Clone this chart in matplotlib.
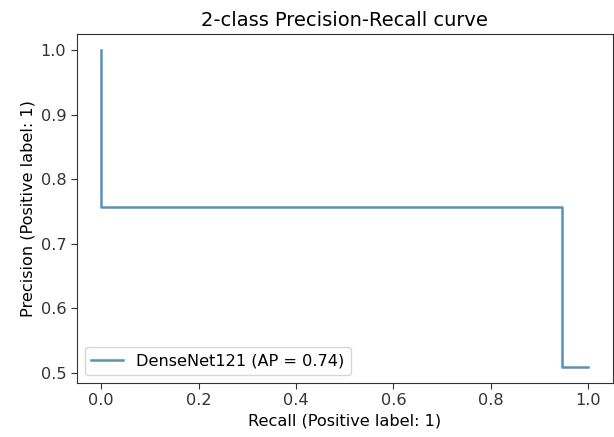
import matplotlib
matplotlib.use('Agg')
import matplotlib.pyplot as plt

# PR curve points (recall decreasing, as sklearn returns them)
recall = [1.0, 0.945, 0.0]
precision = [0.509, 0.757, 1.0]
label = 'DenseNet121 (AP = 0.74)'

plt.rcParams['font.size'] = 11.6
plt.rcParams['xtick.major.size'] = 4
plt.rcParams['ytick.major.size'] = 4
plt.rcParams['axes.edgecolor'] = '#333333'

fig = plt.figure(figsize=(6.14, 4.37), dpi=100)
ax = fig.add_axes([0.125, 0.124, 0.873, 0.798])

ax.plot(recall, precision, drawstyle='steps-post', color='#5a93b2',
        linewidth=1.8, label=label)

ax.set_xlabel('Recall (Positive label: 1)')
ax.set_ylabel('Precision (Positive label: 1)')
ax.set_title('2-class Precision-Recall curve')
ax.set_xticks([0.0, 0.2, 0.4, 0.6, 0.8, 1.0])
ax.set_yticks([0.5, 0.6, 0.7, 0.8, 0.9, 1.0])
ax.tick_params(colors='#333333')
ax.legend(loc='lower left')

fig.savefig('out.png', dpi=100)
